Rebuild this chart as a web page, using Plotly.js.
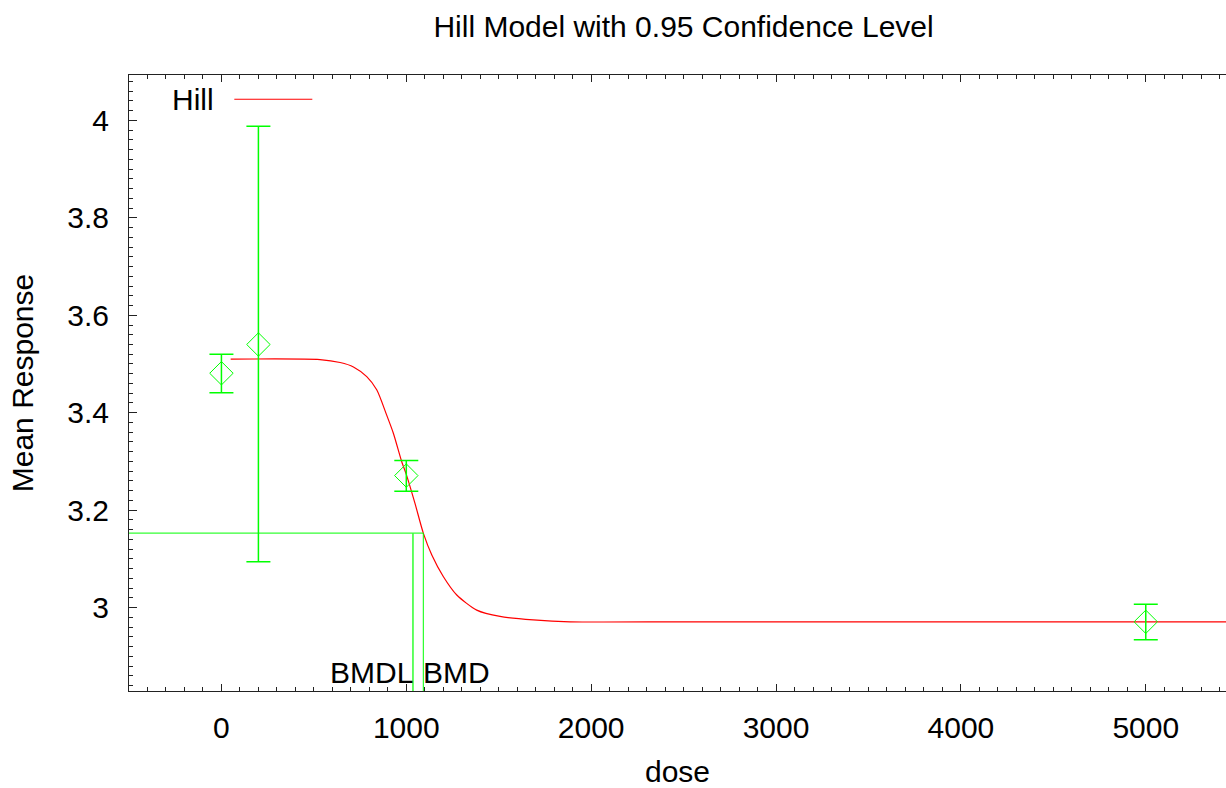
<!DOCTYPE html>
<html>
<head>
<meta charset="utf-8">
<script src="https://cdn.plot.ly/plotly-3.0.1.min.js"></script>
<style>html,body{margin:0;padding:0;background:#fff;}#chart{width:1226px;height:788px;}</style>
</head>
<body>
<div id="chart"></div>
<script>
// Observed data (dose groups)
const doses = [0, 200, 1000, 5000];
const means = [3.481, 3.540, 3.271, 2.971];
const upper = [3.520, 3.988, 3.302, 3.007];
const lower = [3.441, 3.094, 3.239, 2.934];

// Fitted Hill curve
const curveDose = [50, 533, 642, 714, 786, 840, 894, 930, 975, 1002, 1047, 1092, 1138, 1200, 1273, 1381, 1507, 1687, 1886, 2500, 3500, 4500, 5434];
const curveResp = [3.510, 3.509, 3.503, 3.494, 3.474, 3.447, 3.395, 3.358, 3.300, 3.271, 3.214, 3.153, 3.108, 3.064, 3.026, 2.995, 2.982, 2.975, 2.971, 2.971, 2.971, 2.971, 2.971];

// Benchmark dose values
const bmd = 1092;
const bmdl = 1036;
const bmr = 3.153;

const xRange = [-500, 5434];
const yRange = [2.829, 4.093];

const green = 'rgb(0,255,0)';
const font = 'Liberation Sans, Arial, sans-serif';
const fs = 30;

const errPlus = upper.map((u, i) => u - means[i]);
const errMinus = means.map((m, i) => m - lower[i]);

const traces = [
  {
    x: curveDose, y: curveResp, type: 'scatter', mode: 'lines',
    line: {color: 'rgb(255,0,0)', width: 1.2, shape: 'spline', smoothing: 0.7},
    name: 'Hill', showlegend: false, hoverinfo: 'skip'
  },
  {
    x: doses, y: means, type: 'scatter', mode: 'markers',
    marker: {symbol: 'diamond-open', size: 18, color: green, line: {color: green, width: 1}},
    error_y: {type: 'data', symmetric: false, array: errPlus, arrayminus: errMinus,
              color: green, thickness: 1.5, width: 12},
    showlegend: false
  },
  {
    x: [xRange[0], bmd], y: [bmr, bmr], type: 'scatter', mode: 'lines',
    line: {color: green, width: 1}, showlegend: false, hoverinfo: 'skip'
  },
  {
    x: [bmd, bmd], y: [bmr, yRange[0]], type: 'scatter', mode: 'lines',
    line: {color: green, width: 1}, showlegend: false, hoverinfo: 'skip'
  },
  {
    x: [bmdl, bmdl], y: [bmr, yRange[0]], type: 'scatter', mode: 'lines',
    line: {color: 'rgb(60,255,60)', width: 1.6}, showlegend: false, hoverinfo: 'skip'
  }
];

const layout = {
  width: 1226, height: 788,
  margin: {l: 129, r: 0, t: 75, b: 97},
  paper_bgcolor: '#fff', plot_bgcolor: '#fff',
  font: {family: font, size: fs, color: '#000'},
  showlegend: false,
  title: {text: 'Hill Model with 0.95 Confidence Level', font: {family: font, size: fs, color: '#000'},
          x: 0.5055, xref: 'paper', xanchor: 'center', y: 0.966, yref: 'container', yanchor: 'middle'},
  xaxis: {
    range: xRange, showgrid: false, zeroline: false, automargin: false,
    showline: true, linecolor: '#222', linewidth: 1, mirror: 'ticks',
    ticks: 'inside', ticklen: 7, tickcolor: '#222', tickwidth: 1,
    tick0: 0, dtick: 1000, tickfont: {family: font, size: fs, color: '#000'},
    ticklabelstandoff: 10,
    minor: {ticks: 'inside', ticklen: 4, dtick: 100, tickcolor: '#222', tickwidth: 1, showgrid: false},
    title: {text: 'dose', font: {family: font, size: fs, color: '#000'}, standoff: 25}
  },
  yaxis: {
    range: yRange, showgrid: false, zeroline: false, automargin: false,
    showline: true, linecolor: '#222', linewidth: 1, mirror: false,
    ticks: 'inside', ticklen: 8, tickcolor: '#222', tickwidth: 1,
    tick0: 3, dtick: 0.2, tickfont: {family: font, size: fs, color: '#000'},
    ticklabelstandoff: 13,
    minor: {ticks: 'inside', ticklen: 4, dtick: 0.02, tickcolor: '#222', tickwidth: 1, showgrid: false},
    title: {text: 'Mean Response', font: {family: font, size: fs, color: '#000'}, standoff: 24}
  },
  shapes: [
    {type: 'line', xref: 'paper', yref: 'paper', x0: 0.096, x1: 0.1671, y0: 0.9606, y1: 0.9606,
     line: {color: 'rgb(255,0,0)', width: 1.2}}
  ],
  annotations: [
    {text: 'Hill', xref: 'paper', yref: 'paper', x: 0.0797, y: 0.9606, xanchor: 'right', yanchor: 'middle',
     showarrow: false, font: {family: font, size: fs, color: '#000'}},
    {text: 'BMDL', xref: 'x', yref: 'paper', x: bmdl, y: 0, xanchor: 'right', yanchor: 'bottom', yshift: 0, xshift: 2,
     showarrow: false, font: {family: font, size: fs, color: '#000'}},
    {text: 'BMD', xref: 'x', yref: 'paper', x: bmd, y: 0, xanchor: 'left', yanchor: 'bottom', yshift: 0, xshift: -2,
     showarrow: false, font: {family: font, size: fs, color: '#000'}}
  ]
};

Plotly.newPlot('chart', traces, layout, {displayModeBar: false, staticPlot: true});
</script>
</body>
</html>
